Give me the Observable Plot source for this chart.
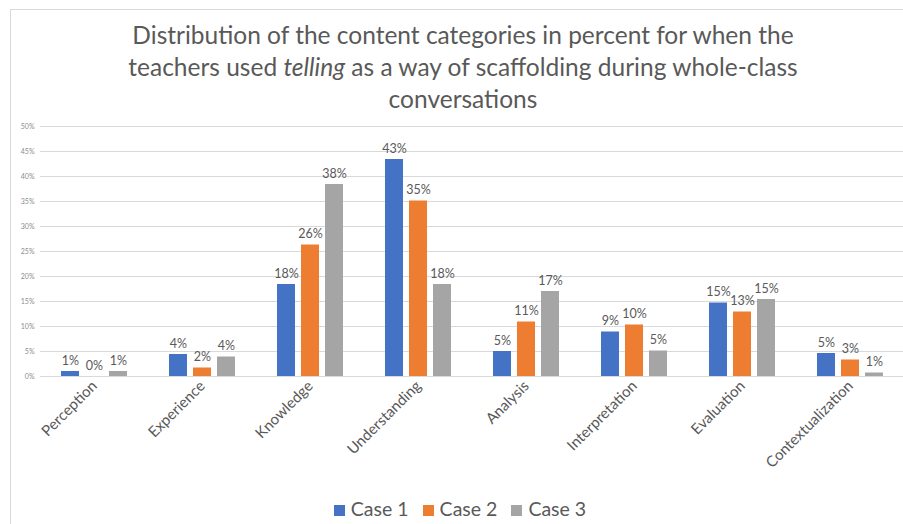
<!DOCTYPE html>
<html>
<head>
<meta charset="utf-8">
<script src="https://cdn.jsdelivr.net/npm/d3@7"></script>
<script src="https://cdn.jsdelivr.net/npm/@observablehq/plot@0.6"></script>
<style>
  html, body { margin: 0; padding: 0; background: #fff; overflow: hidden; }
  #wrap { position: relative; width: 903px; height: 524px; overflow: hidden; font-family: Lato, "DejaVu Sans", sans-serif; }
  #frame { position: absolute; left: 10px; top: 9px; right: -2px; bottom: -2px; border-left: 1px solid #d9d9d9; border-top: 1px solid #d9d9d9; }
  #title { position: absolute; left: 0; width: 926px; top: 19px; text-align: center; font-size: 24.5px; line-height: 32px; color: #595959; }
  #chart { position: absolute; left: 0; top: 0; }
  #legend { position: absolute; left: 0; width: 920px; top: 497px; text-align: center; font-size: 19.5px; color: #595959; }
  #legend span.item { margin: 0 7px; }
  #legend span.sw { display: inline-block; width: 11px; height: 11px; margin-right: 6px; vertical-align: 0px; }
</style>
</head>
<body>
<div id="wrap">
  <div id="frame"></div>
  <div id="chart"></div>
  <div id="title">Distribution of the content categories in percent for when the<br>teachers used <i>telling</i> as a way of scaffolding during whole-class<br>conversations</div>
  <div id="legend"></div>
</div>
<script>
const categories = ["Perception", "Experience", "Knowledge", "Understanding", "Analysis", "Interpretation", "Evaluation", "Contextualization"];
const seriesNames = ["Case 1", "Case 2", "Case 3"];
const case1 = [1.0, 4.4, 18.4, 43.4, 5.0, 8.9, 14.7, 4.6];
const case2 = [0.0, 1.7, 26.3, 35.1, 10.9, 10.3, 12.9, 3.3];
const case3 = [1.0, 3.9, 38.4, 18.4, 17.0, 5.1, 15.4, 0.7];
const colors = ["#4472C4", "#ED7D31", "#A5A5A5"];
const yTicks = [0, 5, 10, 15, 20, 25, 30, 35, 40, 45, 50];

const seriesValues = [case1, case2, case3];
const data = [];
categories.forEach((c, i) => {
  seriesNames.forEach((s, j) => data.push({category: c, series: s, value: seriesValues[j][i]}));
});

const chart = Plot.plot({
  width: 906,
  height: 500,
  marginLeft: 38,
  marginRight: 0,
  marginTop: 126,
  marginBottom: 124,
  style: {background: "transparent", maxWidth: "none", overflow: "visible", fontFamily: "Lato, sans-serif"},
  fx: {domain: categories, paddingInner: 0.39, paddingOuter: 0.195, label: null},
  x: {domain: seriesNames, paddingInner: 0.25, paddingOuter: 0, axis: null},
  y: {domain: [0, 50], label: null},
  color: {domain: seriesNames, range: colors},
  marks: [
    Plot.ruleY(yTicks, {stroke: "#d9d9d9", strokeWidth: 1, insetLeft: -21, insetRight: -21.5}),
    Plot.axisY({ticks: yTicks, tickFormat: d => d + "%", tickSize: 0, tickPadding: 27, fontSize: 7, fill: "#8c8c8c", label: null}),
    Plot.axisFx({anchor: "bottom", tickRotate: -45, tickSize: 0, tickPadding: 7, fontSize: 15, fill: "#595959", label: null}),
    Plot.barY(data, {fx: "category", x: "series", y: "value", fill: "series"}),
    Plot.text(data, {fx: "category", x: "series", y: "value", text: d => Math.round(d.value) + "%", dy: -11, fontSize: 12.5, fill: "#595959"})
  ]
});
document.getElementById("chart").appendChild(chart);

const legend = document.getElementById("legend");
seriesNames.forEach((s, j) => {
  const item = document.createElement("span");
  item.className = "item";
  const sw = document.createElement("span");
  sw.className = "sw";
  sw.style.background = colors[j];
  item.appendChild(sw);
  item.appendChild(document.createTextNode(s));
  legend.appendChild(item);
});
</script>
</body>
</html>
